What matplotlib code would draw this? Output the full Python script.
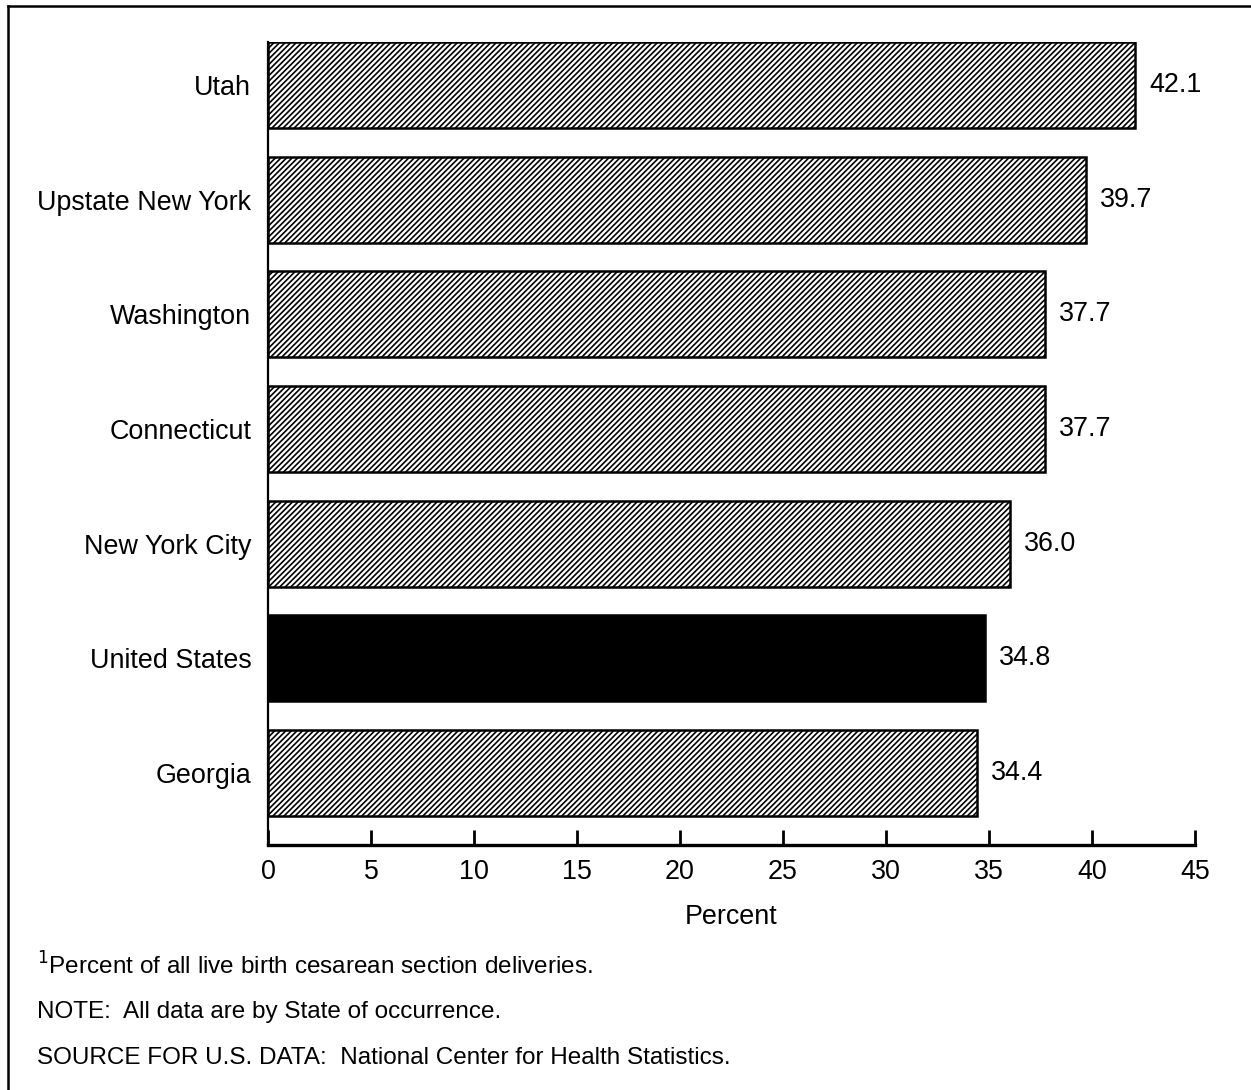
import matplotlib
matplotlib.use('Agg')
import matplotlib.pyplot as plt
from matplotlib.lines import Line2D

plt.rcParams['font.family'] = ['Liberation Sans', 'DejaVu Sans']
plt.rcParams['hatch.linewidth'] = 1.2

states = ['Utah', 'Upstate New York', 'Washington', 'Connecticut',
          'New York City', 'United States', 'Georgia']
values = [42.1, 39.7, 37.7, 37.7, 36.0, 34.8, 34.4]
labels = ['42.1', '39.7', '37.7', '37.7', '36.0', '34.8', '34.4']
xticks = [0, 5, 10, 15, 20, 25, 30, 35, 40, 45]

W, H = 1251, 1090
fig = plt.figure(figsize=(W / 100, H / 100), dpi=100)
ax = fig.add_axes([268 / W, 1 - 845 / H, (1195 - 268) / W, (845 - 42) / H])

for i, (name, v) in enumerate(zip(states, values)):
    if name == 'United States':
        ax.barh(i, v, height=0.75, color='black', edgecolor='black', linewidth=1.8)
    else:
        ax.barh(i, v, height=0.75, color='white', edgecolor='black',
                linewidth=1.8, hatch='//////')
    ax.text(v + 0.7, i, labels[i], va='center', ha='left', fontsize=19.4)

ax.set_ylim(6.63, -0.375)
ax.set_xlim(0, 45)
ax.set_yticks(range(len(states)))
ax.set_yticklabels(states, fontsize=19.4)
ax.tick_params(axis='y', length=0, pad=12)
ax.set_xticks(xticks)
ax.set_xticklabels([str(t) for t in xticks], fontsize=19.4)
ax.tick_params(axis='x', direction='in', length=11, width=2, pad=10)
ax.spines['top'].set_visible(False)
ax.spines['right'].set_visible(False)
ax.spines['left'].set_linewidth(1.6)
ax.spines['bottom'].set_linewidth(2.4)
ax.set_xlabel('Percent', fontsize=19.4, labelpad=14)

fs = 17.5
fig.text(37 / W, 1 - 966 / H, r'$^{1}$Percent of all live birth cesarean section deliveries.',
         fontsize=fs, va='center', ha='left')
fig.text(37 / W, 1 - 1012 / H, 'NOTE:  All data are by State of occurrence.',
         fontsize=fs, va='center', ha='left')
fig.text(37 / W, 1 - 1058 / H, 'SOURCE FOR U.S. DATA:  National Center for Health Statistics.',
         fontsize=fs, va='center', ha='left')

# page frame
fig.add_artist(Line2D([8 / W, 8 / W], [0, 1 - 6 / H], color='black', lw=1.8))
fig.add_artist(Line2D([8 / W, 1], [1 - 6 / H, 1 - 6 / H], color='black', lw=1.8))

fig.savefig('out.png', dpi=100)
